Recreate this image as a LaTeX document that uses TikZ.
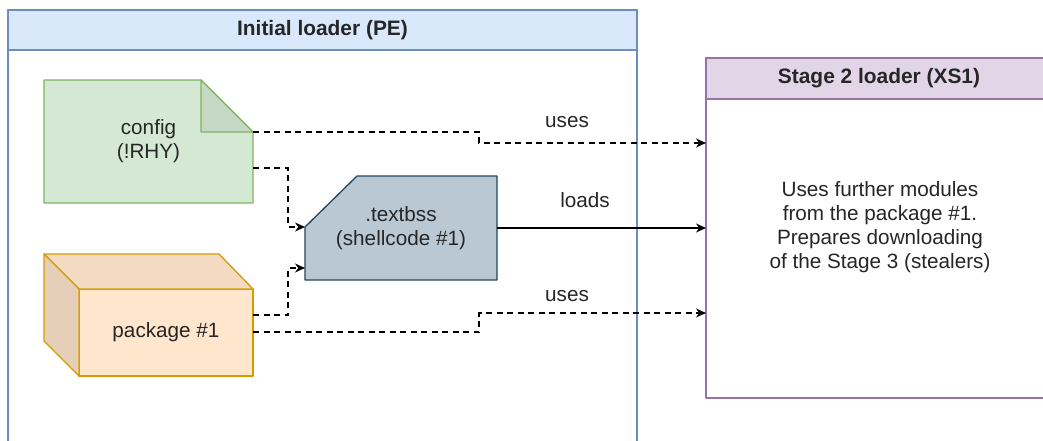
\documentclass[tikz,border=0pt]{standalone}
\usepackage{fontspec}
\setmainfont{Liberation Sans}
\usetikzlibrary{arrows.meta,calc}
\definecolor{blueF}{HTML}{DAE8FC}\definecolor{blueS}{HTML}{6C8EBF}
\definecolor{greenF}{HTML}{D5E8D4}\definecolor{greenS}{HTML}{82B366}\definecolor{greenD}{HTML}{C6D9C5}
\definecolor{orangeF}{HTML}{FFE6CC}\definecolor{orangeS}{HTML}{D79B00}
\definecolor{orangeT}{HTML}{F2DBC2}\definecolor{orangeL}{HTML}{E6CFB8}
\definecolor{grayF}{HTML}{BAC8D3}\definecolor{grayS}{HTML}{23445D}
\definecolor{purpleF}{HTML}{E1D5E7}\definecolor{purpleS}{HTML}{9673A6}
\definecolor{txt}{HTML}{262626}
\begin{document}
\begin{tikzpicture}[x=1pt,y=-1pt,
  lab/.style={font=\fontsize{20.7}{24}\selectfont, align=center, text=txt},
  head/.style={font=\fontsize{20.9}{24}\selectfont\bfseries, align=center, text=txt},
  box/.style={inner sep=0pt, outer sep=0pt},
  edge/.style={line width=1.3pt, line join=round},
  dasharrow/.style={draw=black, line width=1.3pt, dash pattern=on 6pt off 4.5pt, -{Stealth[length=10pt,width=9pt]}},
  solidarrow/.style={draw=black, line width=1.3pt, -{Stealth[length=10pt,width=9pt]}}]
\useasboundingbox (0,0) rectangle (1043,441);
\begin{scope}
\clip (0,0) rectangle (1043,441);
% containers
\node[box, anchor=north west, minimum width=629pt, minimum height=470pt, draw=blueS, fill=white, edge] (init) at (8,10) {};
\node[box, anchor=north west, minimum width=629pt, minimum height=40pt, draw=blueS, fill=blueF, edge, head] (inithead) at (8,10) {Initial loader (PE)};
\node[box, anchor=north west, minimum width=346pt, minimum height=340pt, draw=purpleS, fill=white, edge] (stage2) at (706,58) {};
\node[box, anchor=north west, minimum width=346pt, minimum height=41pt, draw=purpleS, fill=purpleF, edge, head] (stage2head) at (706,58) {Stage 2 loader (XS1)};
\end{scope}
\node[lab] (s2text) at (880,227) {Uses further modules\\from the package \#1.\\Prepares downloading\\of the Stage 3 (stealers)};
% config note
\node[box, anchor=north west, minimum width=209pt, minimum height=123pt] (config) at (44,80) {};
\draw[edge, draw=greenS, fill=greenF] (config.north west) -- ([xshift=-52pt]config.north east) -- ([yshift=-52pt]config.north east) -- (config.south east) -- (config.south west) -- cycle;
\draw[edge, draw=greenS, fill=greenD] ([xshift=-52pt]config.north east) -- ([xshift=-52pt,yshift=-52pt]config.north east) -- ([yshift=-52pt]config.north east) -- cycle;
\node[lab] (configtxt) at (config.center) {config\\(!RHY)};
% package cube
\node[box, anchor=north west, minimum width=174pt, minimum height=87pt] (pkg) at (79,289) {};
\draw[edge, draw=orangeS, fill=orangeF] (pkg.north west) rectangle (pkg.south east);
\draw[edge, draw=orangeS, fill=orangeT] (pkg.north west) -- ($(pkg.north west)+(-35,-35)$) -- ($(pkg.north east)+(-34,-35)$) -- (pkg.north east) -- cycle;
\draw[edge, draw=orangeS, fill=orangeL] (pkg.north west) -- ($(pkg.north west)+(-35,-35)$) -- ($(pkg.south west)+(-35,-35)$) -- (pkg.south west) -- cycle;
\node[lab] (pkgtxt) at (pkg.center) {package \#1};
% textbss
\node[box, anchor=north west, minimum width=192pt, minimum height=104pt] (tb) at (305,176) {};
\draw[edge, draw=grayS, fill=grayF] ([yshift=-51pt]tb.north west) -- ([xshift=52pt]tb.north west) -- (tb.north east) -- (tb.south east) -- (tb.south west) -- cycle;
\node[lab] (tbtxt) at (tb.center) {.textbss\\(shellcode \#1)};
% connectors
\draw[dasharrow] ([yshift=-52pt]config.north east) -- ++(226,0) -- ++(0,11) -- ([yshift=-85pt]stage2.north west);
\draw[dasharrow] ([yshift=35pt]config.south east) -- ++(35,0) |- ([yshift=-51pt]tb.north west);
\draw[dasharrow] ([yshift=-26pt]pkg.north east) -- ++(35,0) |- ([yshift=12pt]tb.south west);
\draw[dasharrow] ([yshift=-43pt]pkg.north east) -- ++(226,0) -- ++(0,-19) -- ([yshift=-255pt]stage2.north west);
\draw[solidarrow] (tb.east) -- (stage2.west |- tb.east);
% labels
\node[lab] (uses1) at (567,122) {uses};
\node[lab] (loads) at (585,200) {loads};
\node[lab] (uses2) at (567,296) {uses};
\end{tikzpicture}
\end{document}
